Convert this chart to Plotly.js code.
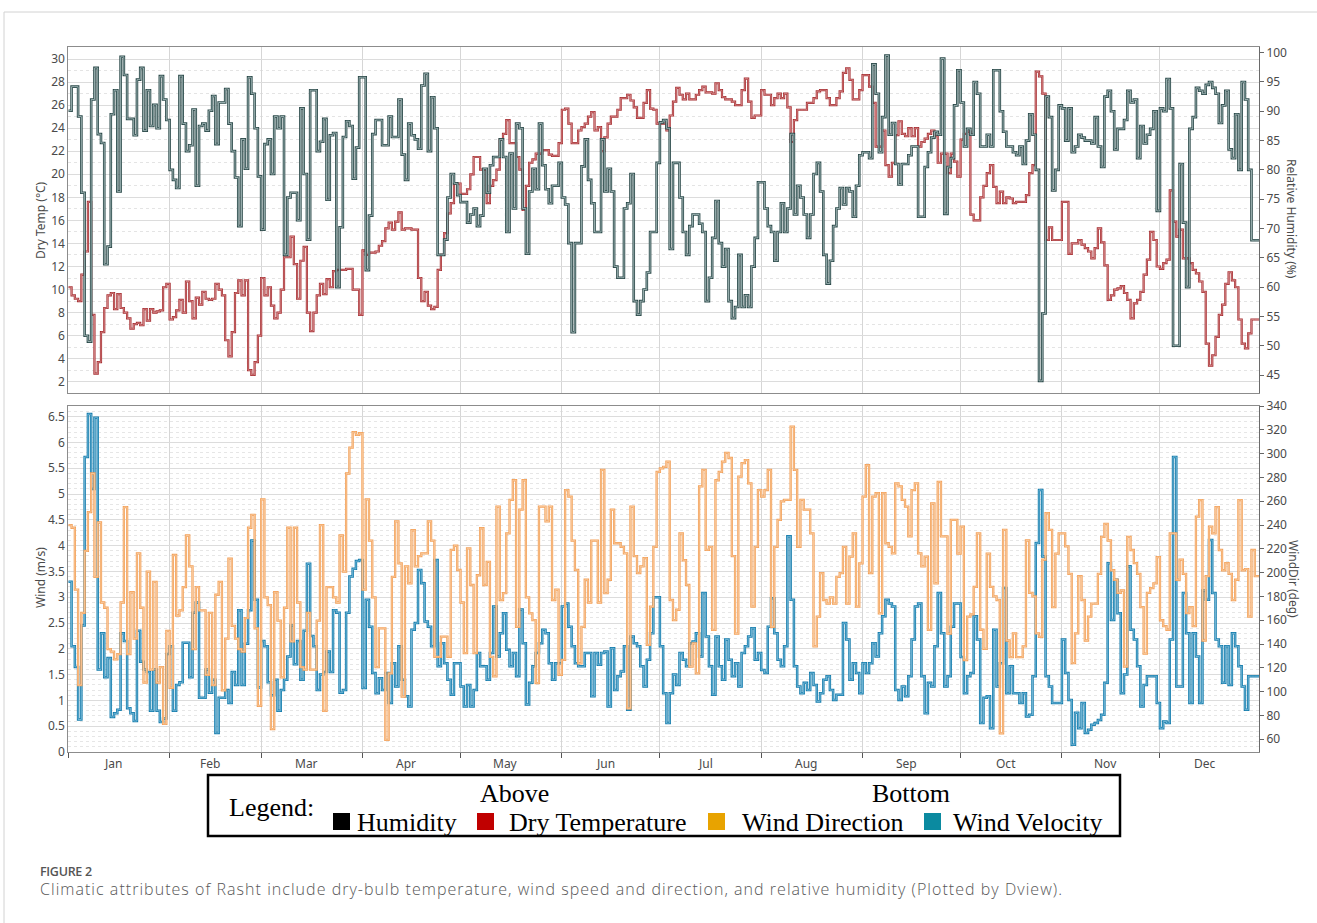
<!DOCTYPE html>
<html>
<head>
<meta charset="utf-8">
<script src="https://cdn.plot.ly/plotly-3.0.1.min.js"></script>
<style>
  html, body { margin: 0; padding: 0; background: #ffffff; }
  #wrap { position: relative; width: 1317px; height: 923px; }
  #chart { position: absolute; left: 0; top: 0; width: 1317px; height: 923px; }
  .cap { position: absolute; left: 40px; white-space: nowrap; font-family: 'Open Sans', 'Noto Sans', sans-serif; }
  #capLabel { top: 864px; font-size: 12.5px; line-height: 16px; font-weight: 600; color: #555; letter-spacing: -0.3px; }
  #capText { top: 879px; font-size: 16px; line-height: 20px; font-weight: 300; color: #575757; letter-spacing: 1.04px; }
</style>
</head>
<body>
<div id="wrap">
  <div id="chart"></div>
  <div id="capLabel" class="cap"></div>
  <div id="capText" class="cap"></div>
</div>
<script>
// ---------------- DATA (daily values) ----------------
const monthNames = ["Jan","Feb","Mar","Apr","May","Jun","Jul","Aug","Sep","Oct","Nov","Dec"];
const monthDays  = [31,28,31,30,31,30,31,31,30,31,30,31];

// Relative humidity (%) - right axis, upper panel
const humidity = [
  90.1,94.2,94.2,89.1,76.1,51.7,50.7,92,97.4,86.1,
  84.6,63.9,66.9,89.5,93.6,76.3,99.3,96.2,88.7,88.7,
  85.9,95.4,97.4,86.7,93.6,87.5,91.1,87.1,96,92,
  88.5,80,78.3,76.9,96,87.9,83.2,84.2,90.3,77.3,
  87.5,87.9,86.7,90.1,92.6,84.4,91.5,91.5,93.8,87.9,
  83.2,78.7,70.4,85.2,80.2,95.8,93,87.1,78.9,69.8,
  84.4,85.2,79.3,89.1,87.1,89.1,65.5,75.3,76.1,76.1,
  71.4,90.5,79.3,68.1,93.6,93.6,83.2,84.8,88.7,74.9,
  85.9,86.3,60,70.2,85.6,88.3,87.5,78.5,83.8,95.8,
  95.8,62.9,72.2,86.1,88.5,88.5,84.2,84.2,89.1,85.6,
  85.6,92,82.6,78.3,87.9,85.9,85.2,83.6,94.4,96.4,
  83.2,92.4,87.1,65.5,65.5,68.1,75.3,79.3,77.7,75.7,
  74.5,74.5,71,72.4,73.4,70.4,72.2,80.2,76.1,80.8,
  82.2,82.2,85.2,82.2,69.4,82.8,73.4,87.9,87.1,73.4,
  65.7,76.3,80.2,76.7,87.9,80.8,76.7,74.3,77.3,77.3,
  81.2,75.3,74.1,67.5,52.3,67.5,67.5,80.6,85.2,78.3,
  74.3,69.4,69.4,85.2,76.3,80.2,76.3,63.5,61.6,61.6,
  73.4,74.3,79.3,57.6,55.3,57.6,59.6,62.5,69.4,69.4,
  81.2,88.1,88.5,87.1,66.5,81.2,81.2,75.3,69.4,65.5,
  70.4,72.4,72.4,70.8,69.4,57.6,61.6,68.4,74.7,67.5,
  63.5,66.5,57.6,54.7,56.6,65.5,56.6,58.6,56.6,63.5,
  68.4,77.9,77.9,73.4,70.4,69.4,64.5,69.4,74.3,69.4,
  73.4,86.1,72.4,77.3,75.3,72.4,68.4,72.4,79.3,81.2,
  76.3,65.5,60.6,64.5,70.4,73.4,76.9,74.1,76.9,76.3,
  72,77.3,82.5,83,83,82,98,93,83,89,
  99.5,86,88,81,77.5,81,81,82.5,84,84,
  72,72,80.5,83,85.5,86.5,86,99,72.5,80.5,
  82,91,97,91.5,84,87,86,95,93,84,
  84,86,84,97,97,90,86.5,84,84,83,
  82.5,84,81,85,89.5,86,80,44,55.5,92.5,
  89,76.5,80,91,90.5,85,90.5,83,84,86,
  85.5,85,85,84.5,89,84,80.5,92.5,93.5,90,
  83.5,87,87,88.5,93.5,91.5,92,82,87.5,84.5,
  86,87,90,73,90.5,90,95.5,90.5,50,50,
  81,71,60,87,89,94,93.5,93,94.5,95,
  94,93,88,91,93.5,83.5,82,89.5,80,95,
  92,80,68,68,68
];

// Dry-bulb temperature (°C) - left axis, upper panel
const dryTemp = [
  10.2,9.5,9.2,9,11.3,13.3,17.6,7.8,2.7,3.7,
  6.3,8.4,9.5,9.7,8.3,9.6,8.4,8,7.5,6.6,
  7,7.1,6.9,8.3,7.3,8.3,8,8.1,8.2,10.2,
  10.5,7.4,7.6,8.2,9.1,8,10.7,9,7.5,9.3,
  8.7,9.8,9.2,9.1,9.2,10.5,10,9.5,5.6,4.2,
  6.3,9.7,10.8,9.5,10.8,3,2.6,3.7,6,11,
  9.5,10.2,8.6,7.5,8,10,12.8,12.8,14.6,12.2,
  9.2,12.5,13.7,8,6.4,8,9.5,10.5,9.6,10.9,
  10.2,11.6,11.7,11.7,11.7,11.8,11.8,10,10,7.8,
  13.4,13,13.2,13.2,13.3,13.8,14.2,15.3,15.8,15.2,
  15.9,16.7,15.2,15.3,15.3,15.2,15.2,11,9,9.8,
  8.6,8.3,8.5,11.7,13,14.9,16.6,17.5,19.2,19.2,
  18.3,18.3,18.7,20,21.5,21.5,20.4,20.4,17.5,19,
  19.5,20.4,23,23.5,24.7,22.7,22.7,21.5,20.4,16.9,
  19,21,21.3,21.8,21.8,22.1,22.1,21.7,21.6,21.6,
  22.7,25.6,25.7,24.4,22.7,22.7,23.8,24.1,24.4,25,
  25.4,23.8,24.1,22,23.2,24.4,25,25,25.6,26.6,
  26.6,26.9,26.4,25.8,24.9,24.9,26.2,27.3,25.7,25.6,
  24.4,24.4,24.4,23.8,25.1,26.3,27.5,26.9,26.5,27,
  26.5,26.5,26.9,27.3,27.6,27.1,27.1,27,27.9,27.3,
  26.7,26.5,26.5,26.3,26,26,27.3,28.3,26.3,24.9,
  25.1,25.1,27.3,26.9,26.9,26,26.6,27,26.6,27,
  25.8,22.8,24.7,25.6,25.6,25.6,26.2,26.2,26.6,27.2,
  27.3,27.3,26.6,26,26,26.6,27.2,28.8,29.2,28.2,
  26.5,26.5,27.3,28.6,28.6,27.6,26.2,22.4,22.4,23.8,
  20.8,19.8,21,23.4,24.6,23.5,23.3,24,23.3,24,
  22.4,22.8,23.1,23.5,23.8,23.3,21,21.8,21.8,20.1,
  21.8,21.1,19.8,23,23.5,23.7,16.5,16,16,18,
  19,20.1,20.8,18.9,17.5,18.5,17.5,18,17.9,17.5,
  17.6,17.6,17.6,18.2,20.1,20.8,28.9,28.5,27,14.3,
  15.4,14.3,14.3,14.3,17.6,17.6,13.1,14,14,14.3,
  13.9,13.6,13.3,12.7,13.6,15.3,14.1,12.1,9.1,9.5,
  10,10.1,10.3,9.7,9.1,7.5,8.8,9.1,9.8,11.3,
  12.6,15,14.3,12,11.8,12.3,12.6,18.6,15.9,14.6,
  15.2,12.7,12.7,12.3,11.7,11.4,10.7,9.8,5.3,3.4,
  4.3,5.9,7.8,8.7,10.5,11.5,10.8,10.2,7.4,5.3,
  4.9,6.2,7.4,7.4,7.4
];

// Wind direction (deg) - right axis, lower panel
const windDir = [
  239.9,237.7,185.7,105.5,166.2,218.2,250.8,283.3,196.5,242.1,
  174.9,170.5,135.8,133.7,127.1,131.5,174.9,255.1,131.5,183.5,
  144.5,216.1,170.5,107.6,200.9,118.5,192.2,107.6,120.6,72.9,
  151,103.3,214.8,164,168.3,187.9,231.2,205.2,135.8,187.9,
  168.3,168.3,114.1,166.2,105.5,181.4,192.2,101.1,144.5,211.7,
  155.3,144.5,135.8,133.7,161.8,237.7,248.6,153.2,88.1,261.6,
  179.2,172.7,68.6,183.5,159.7,112,170.5,237.7,142.3,237.7,
  174.9,120.6,118.5,166.2,118.5,118.5,159.7,239.9,83.8,187.9,
  187.9,179.2,174.9,231.2,200.9,283.3,305,318,315.8,317.1,
  185.7,261.6,226.9,179.2,120.6,153.2,153.2,59.5,115.4,196.5,
  243,207.8,95.9,205.2,190.9,235.6,205.2,213.9,216.1,216.1,
  243,226.9,129.3,129.3,146.2,146.2,129.3,219.1,222.6,202.2,
  174.9,132.4,220.4,189.6,132.4,197.8,237.3,189.6,209.1,129.3,
  112.8,255.5,177,182.7,233,261.2,277.6,154.5,252.9,277.6,
  179.2,165.7,160.1,107.2,255.5,255.5,243,255.5,177,185.7,
  114.1,126.7,269.4,263.8,226.9,202.2,123.7,154.5,194,174.9,
  226.9,226.9,174.9,286.3,182.7,194,252.9,224.7,224.7,221.7,
  216.1,86,255.5,213.9,199.6,205.2,212.2,139.3,171.4,221.7,
  284.6,287.6,288.9,293.3,177,160.1,168.8,233,210.4,189.6,
  121.1,140.6,115.4,272.4,286.3,219.1,221.7,151.9,277.6,284.6,
  293.3,300.6,296.3,213.9,148.8,280.7,292,294.6,275,171.4,
  221.7,269.4,263.8,269.4,286.3,154.5,221.7,244.3,259.9,261.2,
  261.2,322.7,286.3,221.7,261.2,252.9,252.9,233,138,163.1,
  199.6,177,174,179.2,174,196.5,199.6,221.7,174,213.5,
  233,171.4,207.8,263.8,290.2,199.6,263.8,266.8,165.7,266.8,
  224.7,221.7,216.1,275,272.4,261.2,255.5,230.4,269.4,275,
  216.1,205.2,213.5,151.9,258.1,190.9,276.3,230.4,230.4,148.8,
  244.3,244.3,216,238.6,126.6,163,165,188,233,152,
  136,216,188,180,177,65,236,143,129,149,
  129,129,138,227,183,180,149,146,211,250,
  236,171,216,233,233,222,199,124,149,197,
  177,143,163,174,174,199,230,241,227,202,
  194,183,185,121,230,219,208,199,171,132,
  183,187,191,213,160,155,152,233,233,194,
  211,199,166,171,155,247,261,143,197,238.6,
  233,255,219,202,208,199,177,194,261,202,
  203,163,219,197,197
];

// Wind velocity (m/s) - left axis, lower panel
const windVel = [
  3.3,2.05,1.65,0.63,2.45,5.72,6.55,5.1,6.48,1.6,
  2.3,1.45,1.82,0.68,0.75,0.82,2.3,2.15,0.85,0.75,
  0.6,2.35,1.75,1.6,1.55,0.8,1.6,0.8,0.58,0.65,
  1.9,2.05,0.8,1.3,1.35,2.12,2.12,1.45,2.7,2.9,
  1.05,1.05,1.6,1.15,1.4,0.37,1.05,1.05,1.2,0.95,
  1.55,1.3,2.75,1.3,2.1,2.75,4.1,2.95,1.25,2.15,
  2.05,1.35,1.1,1.4,0.8,1.2,1.4,1.85,2.45,1.7,
  2.15,1.4,2.35,3.65,2.25,2.05,1.2,1.5,1.55,1.95,
  1.55,2.75,2.7,1.15,1.2,2.7,3.4,3.55,3.7,3.72,
  1.24,2.95,2.43,1.53,1.14,1.43,1.2,1.53,0.95,1.72,
  1.27,2.05,1.4,1.08,0.88,2.37,2.5,3.53,3.27,2.53,
  2.43,2.05,3.72,1.66,2.11,1.72,1.4,1.11,1.72,1.72,
  1.27,0.88,1.3,0.88,1.2,1.92,1.66,1.66,1.4,1.92,
  2.82,1.85,2.3,2.69,1.98,1.66,1.92,1.47,2.76,2.11,
  0.92,1.34,1.66,1.92,2.11,2.37,2.3,1.72,1.4,1.72,
  1.72,2.82,2.88,2.43,2.05,1.72,1.66,1.66,1.92,1.92,
  1.08,1.92,1.69,1.92,1.95,0.88,2.01,1.2,1.47,1.56,
  2.05,0.82,2.24,2.11,2.05,1.66,1.27,1.79,2.3,3.0,
  3.0,2.05,1.14,0.56,1.14,1.5,1.3,1.92,1.79,1.66,
  2.11,2.14,2.3,1.85,3.08,2.24,1.66,1.11,2.24,1.66,
  1.4,2.18,1.79,1.47,1.72,1.27,1.92,2.05,2.24,2.4,
  1.79,1.92,1.59,1.53,2.43,2.98,2.3,1.79,1.66,2.05,
  4.18,2.95,1.66,1.27,1.14,1.34,1.2,1.53,1.3,0.98,
  1.14,1.4,1.47,1.2,1.01,1.11,1.11,2.5,2.18,1.4,
  1.72,1.53,1.14,1.72,1.53,1.72,2.11,1.85,2.3,2.63,
  2.95,2.88,2.82,1.2,1.01,1.27,1.08,1.47,2.18,2.82,
  2.88,1.47,0.75,1.34,1.27,2.05,3.08,2.3,1.27,1.47,
  2.43,2.88,2.88,1.84,1.14,1.47,1.53,2.63,2.18,0.56,
  1.05,1.08,0.46,2.37,1.27,1.72,3.18,1.14,1.66,1.14,
  1.14,0.95,1.14,0.69,0.72,1.47,4.05,5.08,3.79,1.47,
  1.27,0.95,0.95,0.95,2.18,1.53,1.01,0.14,0.76,0.46,
  0.95,0.37,0.43,0.53,0.56,0.62,0.72,1.34,3.66,2.56,
  3.34,2.69,1.14,1.5,3.6,2.37,2.18,1.66,0.88,1.3,
  1.47,1.47,1.47,0.95,0.46,0.59,0.56,2.18,5.72,1.27,
  1.27,3.08,2.3,0.95,2.3,1.85,0.95,3.13,2.95,4.11,
  3.08,2.18,2.05,1.34,2.05,1.3,2.3,2.05,1.66,1.27,
  0.82,1.47,1.47,1.47,1.47
];

const tempTicks  = [2,4,6,8,10,12,14,16,18,20,22,24,26,28,30];
const humTicks   = [45,50,55,60,65,70,75,80,85,90,95,100];
const windTicks  = [0,0.5,1,1.5,2,2.5,3,3.5,4,4.5,5,5.5,6,6.5];
const dirTicks   = [60,80,100,120,140,160,180,200,220,240,260,280,300,320,340];

const legendItems = [
  {label: "Humidity",        color: "#000000"},
  {label: "Dry Temperature", color: "#c00000"},
  {label: "Wind Direction",  color: "#e8a300"},
  {label: "Wind Velocity",   color: "#0b8aa0"}
];
const captionLabel = "FIGURE 2";
const captionText  = "Climatic attributes of Rasht include dry-bulb temperature, wind speed and direction, and relative humidity (Plotted by Dview).";

// ---------------- BUILD ----------------
const W = 1317, H = 923;
const PX = x => x / W;
const PY = y => 1 - y / H;

const monthStarts = [];
let acc = 0;
monthDays.forEach(d => { monthStarts.push(acc); acc += d; });
const monthLabelPos = monthStarts.map((s, i) => s + monthDays[i] / 2 - 1.7);

function stepXY(vals) {
  const x = vals.map((v, i) => i);
  const y = vals.slice();
  x.push(vals.length); y.push(vals[vals.length - 1]);
  return {x, y};
}

const T = stepXY(dryTemp), Hm = stepXY(humidity), D = stepXY(windDir), V = stepXY(windVel);

function hollow(xy, xa, ya, outer, inner, wo, wi, name) {
  return [
    {x: xy.x, y: xy.y, xaxis: xa, yaxis: ya, mode: 'lines', line: {shape: 'hv', color: outer, width: wo}, name: name},
    {x: xy.x, y: xy.y, xaxis: xa, yaxis: ya, mode: 'lines', line: {shape: 'hv', color: inner, width: wi}, name: name + ' (inner)'}
  ];
}

const traces = [].concat(
  hollow(T,  'x',  'y',  '#a52d31', '#e3a0a1', 2.2, 0.7, 'Dry Temperature'),
  hollow(Hm, 'x',  'y2', '#2d4b4b', '#b4c8c8', 2.6, 0.8, 'Humidity'),
  hollow(D,  'x2', 'y4', '#f3a15a', '#fbd6b0', 2.3, 0.7, 'Wind Direction'),
  hollow(V,  'x2', 'y3', '#167dad', '#86c3de', 2.5, 0.8, 'Wind Velocity')
);

const tickFont = {family: 'Noto Sans, Open Sans, sans-serif', size: 12, color: '#4a4a4a'};
const frameColor = '#8c8c8c';
const xDomain = [PX(68.3), PX(1259)];
const xRange = [0, 364.3];

const layout = {
  width: W, height: H,
  margin: {l: 0, r: 0, t: 0, b: 0},
  paper_bgcolor: 'rgba(0,0,0,0)', plot_bgcolor: '#ffffff',
  showlegend: false,
  xaxis: {
    domain: xDomain, range: xRange, anchor: 'y',
    tickmode: 'array', tickvals: monthStarts, showticklabels: false, ticks: '',
    showgrid: true, gridcolor: '#d6d6d6', gridwidth: 1,
    showline: true, mirror: true, linecolor: frameColor, linewidth: 1, zeroline: false
  },
  yaxis: {
    domain: [PY(392.7), PY(46.7)], range: [1.05, 31.07], anchor: 'x',
    tickmode: 'array', tickvals: tempTicks, ticks: '', tickfont: tickFont,
    showgrid: true, gridcolor: '#dcdcdc', gridwidth: 1,
    minor: {tickmode: 'linear', tick0: 1, dtick: 2, showgrid: true, gridcolor: '#e4e4e4', griddash: 'dot', ticks: ''},
    showline: true, linecolor: frameColor, zeroline: false
  },
  yaxis2: {
    overlaying: 'y', side: 'right', anchor: 'x', range: [41.98, 101.02],
    tickmode: 'array', tickvals: humTicks, ticks: 'outside', ticklen: 4, tickcolor: '#666',
    tickfont: tickFont, showgrid: false, showline: true, linecolor: '#6a6a6a', zeroline: false
  },
  xaxis2: {
    domain: xDomain, range: xRange, anchor: 'y3',
    tickmode: 'array', tickvals: monthStarts, showticklabels: false,
    ticks: 'outside', ticklen: 5, tickcolor: '#555',
    showgrid: true, gridcolor: '#d6d6d6', gridwidth: 1,
    showline: true, mirror: true, linecolor: frameColor, linewidth: 1, zeroline: false
  },
  yaxis3: {
    domain: [PY(752), PY(406)], range: [0, 6.707], anchor: 'x2',
    tickmode: 'array', tickvals: windTicks, ticks: '', tickfont: tickFont,
    showgrid: true, gridcolor: '#dcdcdc', gridwidth: 1,
    minor: {tickmode: 'linear', tick0: 0, dtick: 0.1, showgrid: true, gridcolor: '#e6e6e6', griddash: 'dot', ticks: ''},
    showline: true, linecolor: frameColor, zeroline: false
  },
  yaxis4: {
    overlaying: 'y3', side: 'right', anchor: 'x2', range: [49.3, 340],
    tickmode: 'array', tickvals: dirTicks, ticks: 'outside', ticklen: 4, tickcolor: '#666',
    tickfont: tickFont, showgrid: false, showline: true, linecolor: '#6a6a6a', zeroline: false
  },
  shapes: [],
  annotations: []
};

// outer card frame
layout.shapes.push({type: 'line', xref: 'paper', yref: 'paper', x0: PX(4), x1: 1, y0: PY(12), y1: PY(12), line: {color: '#d2d2d2', width: 1}});
layout.shapes.push({type: 'line', xref: 'paper', yref: 'paper', x0: PX(4), x1: PX(4), y0: PY(12), y1: 0, line: {color: '#d2d2d2', width: 1}});

// axis titles
const titleFont = {family: 'Noto Sans, Open Sans, sans-serif', size: 12, color: '#4a4a4a'};
function ann(text, x, y, opts) {
  layout.annotations.push(Object.assign({text, xref: 'paper', yref: 'paper', x: PX(x), y: PY(y), showarrow: false,
    xanchor: 'center', yanchor: 'middle', font: titleFont}, opts || {}));
}
ann('Dry Temp (°C)', 40, 220, {textangle: -90});
ann('Relative Humidity (%)', 1292, 219, {textangle: 90});
ann('Wind (m/s)', 40, 578, {textangle: -90});
ann('WindDir (deg)', 1294, 579, {textangle: 90});

// month labels below lower panel
monthNames.forEach((m, i) => {
  layout.annotations.push({text: m, xref: 'x2', yref: 'paper', x: monthLabelPos[i], y: PY(763),
    showarrow: false, xanchor: 'center', yanchor: 'middle', font: tickFont});
});

// custom legend box
const serif = {family: 'Liberation Serif, Times New Roman, serif', size: 26, color: '#000'};
layout.shapes.push({type: 'rect', xref: 'paper', yref: 'paper', x0: PX(208), x1: PX(1120), y0: PY(836), y1: PY(775),
  line: {color: '#000', width: 2.5}, fillcolor: 'rgba(0,0,0,0)'});
ann('Legend:', 227, 807, {xanchor: 'left', font: serif});
ann('Above', 514, 793, {font: serif});
ann('Bottom', 911, 793, {font: serif});
const sqX = [333, 477, 708, 924];
const lblX = [355, 507, 740, 951];
legendItems.forEach((it, i) => {
  layout.shapes.push({type: 'rect', xref: 'paper', yref: 'paper', x0: PX(sqX[i]), x1: PX(sqX[i] + 17),
    y0: PY(830), y1: PY(813), line: {width: 0}, fillcolor: it.color});
  ann(it.label, lblX[i], 822, {xanchor: 'left', font: serif});
});

// caption (HTML text for letter spacing)
document.getElementById('capLabel').textContent = captionLabel;
document.getElementById('capText').textContent = captionText;

Plotly.newPlot('chart', traces, layout, {staticPlot: true, displayModeBar: false});
</script>
</body>
</html>
